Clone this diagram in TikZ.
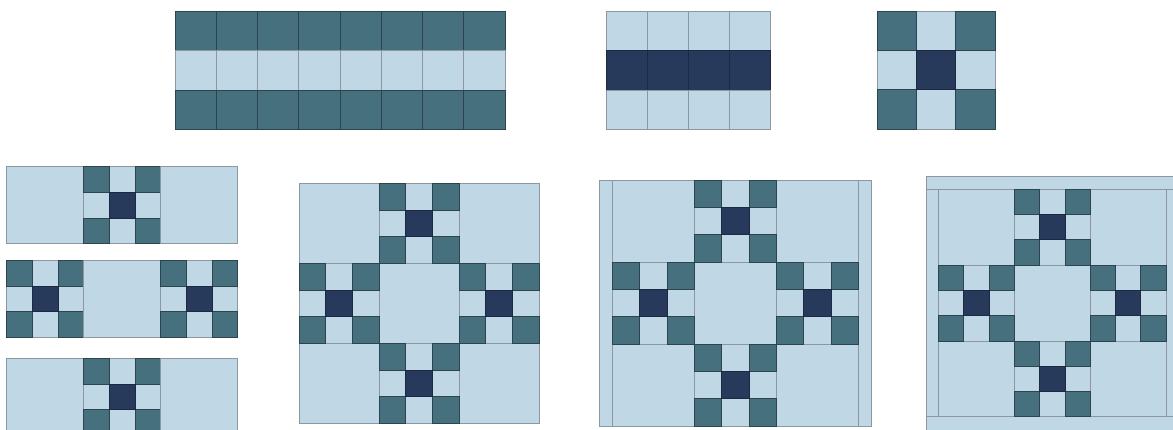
\documentclass[tikz,border=0pt]{standalone}
\usepackage{xcolor}
\usepackage{tikz}
\definecolor{pale}{HTML}{C0D8E6}
\definecolor{tealq}{HTML}{46707D}
\definecolor{navyq}{HTML}{283A5B}
\definecolor{seam}{HTML}{8C979F}
\definecolor{darkseam}{HTML}{2C444D}
\tikzset{
  palecell/.style={fill=pale,draw=seam,line width=0.6pt},
  tealcell/.style={fill=tealq,draw=darkseam,line width=0.6pt},
  navycell/.style={fill=navyq,draw=navyq!70!black,line width=0.6pt},
}
% one nine-patch unit, top left corner (#1,#2), cell size #3
\newcommand{\ninepatch}[3]{%
  \foreach \i in {0,1,2}{
    \foreach \j in {0,1,2}{
      \draw[palecell] ({#1+\i*#3},{#2+\j*#3}) rectangle ++(#3,#3);
    }}
  \foreach \i/\j in {0/0,2/0,0/2,2/2}{
    \draw[tealcell] ({#1+\i*#3},{#2+\j*#3}) rectangle ++(#3,#3);
  }
  \draw[navycell] ({#1+#3},{#2+#3}) rectangle ++(#3,#3);}
% whole block: plain squares and four nine-patches
\newcommand{\quiltblock}[3]{%
  \foreach \u/\v in {0/0,2/0,1/1,0/2,2/2}{
    \draw[palecell] ({#1+3*\u*#3},{#2+3*\v*#3}) rectangle ++(3*#3,3*#3);
  }
  \foreach \u/\v in {1/0,0/1,2/1,1/2}{
    \ninepatch{#1+3*\u*#3}{#2+3*\v*#3}{#3}
  }}

\begin{document}
\begin{tikzpicture}[x=1pt,y=-1pt]
  \useasboundingbox (0,0) rectangle (1173,429);
  \clip (0,0) rectangle (1173,429);

  % strip of eight
  \foreach \k in {0,...,7}{
    \draw[tealcell] ({175+\k*41.25},11) rectangle ++(41.25,39.4);
    \draw[palecell] ({175+\k*41.25},50.4) rectangle ++(41.25,39.4);
    \draw[tealcell] ({175+\k*41.25},89.8) rectangle ++(41.25,39.4);
  }
  % strip of four
  \foreach \k in {0,...,3}{
    \draw[palecell] ({606.7+\k*40.8},11) rectangle ++(40.8,39.4);
    \draw[navycell] ({606.7+\k*40.8},50.4) rectangle ++(40.8,39.4);
    \draw[palecell] ({606.7+\k*40.8},89.8) rectangle ++(40.8,39.4);
  }
  \ninepatch{877}{11}{39.3}

  % rows of the block
  \draw[palecell] (6.7,166.7) rectangle ++(76.95,76.95);
  \ninepatch{83.65}{166.7}{25.65}
  \draw[palecell] (160.6,166.7) rectangle ++(76.95,76.95);

  \ninepatch{6.7}{260.3}{25.65}
  \draw[palecell] (83.65,260.3) rectangle ++(76.95,76.95);
  \ninepatch{160.6}{260.3}{25.65}

  \draw[palecell] (6.7,358.3) rectangle ++(76.95,76.95);
  \ninepatch{83.65}{358.3}{25.65}
  \draw[palecell] (160.6,358.3) rectangle ++(76.95,76.95);

  % finished block
  \quiltblock{299}{183.3}{26.65}

  % block with side borders
  \draw[palecell] (599,180) rectangle (612.3,426);
  \draw[palecell] (858.3,180) rectangle (871.6,426);
  \quiltblock{612.3}{180}{27.33}

  % block with all borders
  \draw[palecell] (926.7,176.7) rectangle (1178,189);
  \draw[palecell] (926.7,416.7) rectangle (1178,430);
  \draw[palecell] (926.7,189) rectangle (938.3,416.7);
  \draw[palecell] (1166,189) rectangle (1178,416.7);
  \quiltblock{938.3}{189}{25.3}
\end{tikzpicture}
\end{document}
